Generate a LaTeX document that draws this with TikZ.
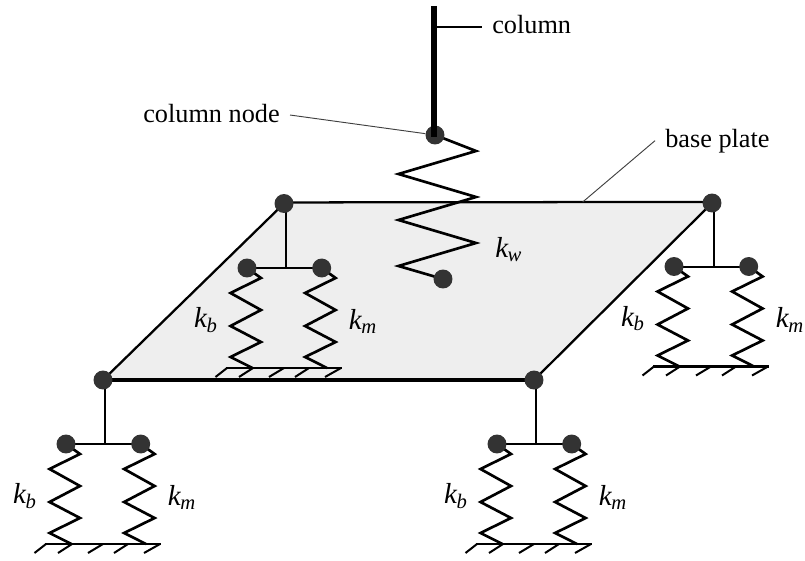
\documentclass[tikz,border=0pt]{standalone}
\usepackage{fontspec}
\setmainfont{Liberation Serif}
\usetikzlibrary{backgrounds}
\newcommand{\kk}[1]{{\fontsize{21.7}{21.7}\selectfont\itshape k\kern-0.3pt\raisebox{-3.5pt}{\fontsize{15.5}{15.5}\selectfont #1}}}
\definecolor{platefill}{HTML}{EEEEEE}
\definecolor{joint}{HTML}{333333}
\begin{document}
\begin{tikzpicture}[x=0.75pt,y=-0.75pt,
  jointnode/.style={circle,fill=joint,draw=none,inner sep=0pt,minimum size=14.2pt},
  labeltext/.style={font=\fontsize{19.7}{19.7}\selectfont,inner ysep=0pt,inner xsep=7.5pt},
  klabel/.style={inner sep=0pt,anchor=base},
  spring/.style={line width=2pt,line join=miter,black},
  plateedge/.style={line width=1.7pt},
  linkbar/.style={line width=1.5pt},
  leader/.style={line width=0.7pt,black!75},
  groundline/.style={line width=1.7pt},
  hatch/.style={line width=1.5pt}]
\useasboundingbox (0,0) rectangle (805,560);
% plate joints
\node[jointnode] (TL) at (284,203.5) {};
\node[jointnode] (TR) at (712,203) {};
\node[jointnode] (BL) at (103,380) {};
\node[jointnode] (BR) at (534,380) {};
% column and its spring
\node[jointnode] (CN) at (435,135) {};
\node[jointnode] (CE) at (443,279) {};
\coordinate (coltop) at (433.7,6);
\coordinate (colbot) at (433.7,137);
\coordinate (colmark) at (436,27);
\coordinate (platemark) at (582.7,202);
% labels
\node[labeltext,anchor=base west] (Lcol) at (482,33.5) {column};
\node[labeltext,anchor=base east] (Lcn) at (290,122) {column node};
\node[labeltext,anchor=base west] (Lbp) at (655,147) {base plate};
\node[klabel,anchor=base west] (kw) at (495,257) {\kk{w}};
% plate
\begin{pgfonlayer}{background}
  \fill[platefill] (TL.center) -- (TR.center) -- (BR.center) -- (BL.center) -- cycle;
  \draw[plateedge] ([yshift=0.8pt]TL.center) -- ([yshift=0.8pt]TR.center);
  \draw[plateedge] (TR.center) -- (BR.center);
  \draw[plateedge] (BL.center) -- (TL.center);
  \draw[line width=2.4pt] (BL.center) -- (BR.center);
\end{pgfonlayer}
% spring units: name / corner / shift of the unit
\foreach \n/\c/\dx/\dy in {a/BL/0/0, b/BR/431/0, c/TL/181/-176, d/TR/608/-177.5}{
  \begin{scope}[shift={(\dx,\dy)}]
    \node[jointnode] (\n L) at (66,444) {};
    \node[jointnode] (\n R) at (140.7,444) {};
    \coordinate (\n J) at (\c.center |- \n L.center);
    \coordinate (\n G1) at (45,544);
    \coordinate (\n G2) at (160.7,544);
    \node[klabel] (\n kb) at (24.5,503.5) {\kk{b}};
    \node[klabel] (\n km) at (181.5,505) {\kk{m}};
    \begin{pgfonlayer}{background}
      \draw[linkbar] (\n L.center) -- (\n R.center);
      \draw[linkbar] ([xshift=1.5pt]\c.center) -- ([xshift=1.5pt]\n J);
      \draw[spring] (\n L.center) -- (80,454) -- (49.5,469) -- (80,486) -- (49.5,502) -- (80,518) -- (49.5,533) -- (71.5,544);
      \draw[spring] (\n R.center) -- (154.6,454) -- (124.1,469) -- (154.6,486) -- (124.1,502) -- (154.6,518) -- (124.1,533) -- (146,544);
    \end{pgfonlayer}
    \draw[groundline] (\n G1) -- (\n G2);
    \draw[hatch] (34.5,553) -- (46,544);
    \draw[hatch] (58,553) -- (72,544);
    \draw[hatch] (88,553) -- (103,544);
    \draw[hatch] (114,553) -- (128,544);
    \draw[hatch] (144,553) -- (160,544);
  \end{scope}
}
% column spring
\begin{pgfonlayer}{background}
  \draw[spring] (CN.center) -- (476,151) -- (398.5,174) -- (476,197) -- (398.5,220) -- (476,243) -- (398.5,266) -- (CE.center);
\end{pgfonlayer}
% column
\draw[line width=4.5pt] (coltop) -- (colbot);
% leaders
\draw[linkbar] (colmark) -- (colmark -| Lcol.west);
\draw[leader] ([yshift=-1.5pt]Lcn.east) -- (CN);
\draw[leader] (Lbp.west) -- (platemark);
\end{tikzpicture}
\end{document}
